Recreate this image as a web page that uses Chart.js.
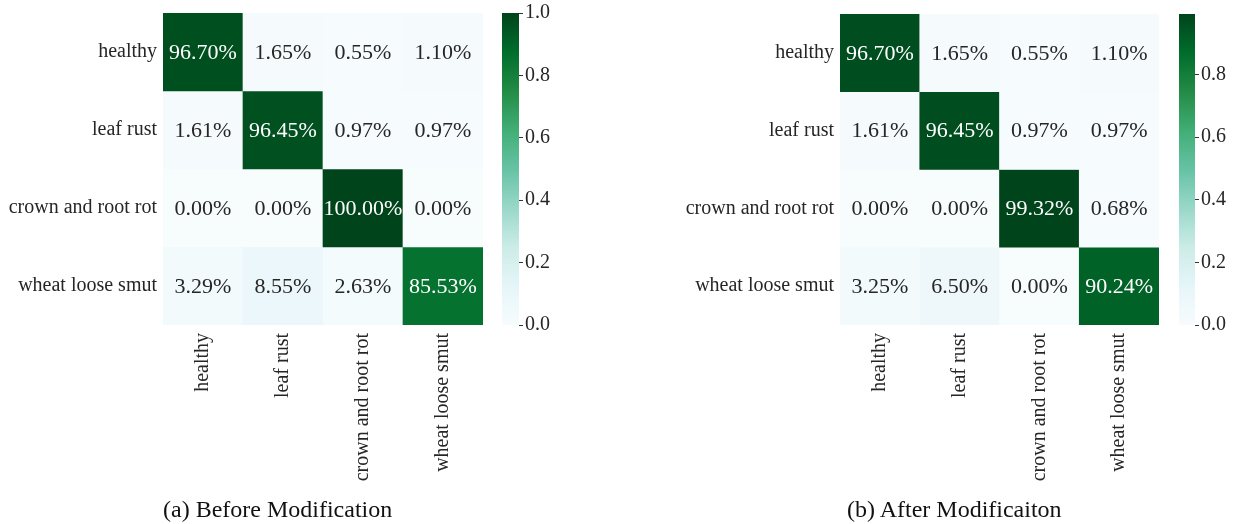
<!DOCTYPE html>
<html>
<head>
<meta charset="utf-8">
<script src="https://cdn.jsdelivr.net/npm/chart.js@4.4.1/dist/chart.umd.min.js"></script>
<style>
  body{margin:0;background:#fff;}
  #wrap{position:relative;width:1234px;height:524px;overflow:hidden;background:#fff;font-family:'Liberation Serif',serif;}
  canvas{position:absolute;top:0;}
  .cap{position:absolute;top:497px;font-size:24px;line-height:24px;color:#111;white-space:nowrap;}
</style>
</head>
<body>
<div id="wrap">
  <canvas id="hmA" width="490" height="500" style="left:0"></canvas>
  <canvas id="cbA" width="65" height="340" style="left:495px"></canvas>
  <canvas id="hmB" width="487" height="500" style="left:677px"></canvas>
  <canvas id="cbB" width="62" height="340" style="left:1172px"></canvas>
  <div class="cap" style="left:163px">(a) Before Modification</div>
  <div class="cap" style="left:847px">(b) After Modificaiton</div>
</div>
<script>
// confusion matrices (row-normalised, %)
const classes = ['healthy','leaf rust','crown and root rot','wheat loose smut'];
const beforeValues = [
  [96.70, 1.65, 0.55, 1.10],
  [1.61, 96.45, 0.97, 0.97],
  [0.00, 0.00, 100.00, 0.00],
  [3.29, 8.55, 2.63, 85.53]
];
const afterValues = [
  [96.70, 1.65, 0.55, 1.10],
  [1.61, 96.45, 0.97, 0.97],
  [0.00, 0.00, 99.32, 0.68],
  [3.25, 6.50, 0.00, 90.24]
];
const beforeBarTicks = [0, 0.2, 0.4, 0.6, 0.8, 1.0];
const afterBarTicks = [0, 0.2, 0.4, 0.6, 0.8];

// BuGn colormap
const bugn = ['#f7fcfd','#e5f5f9','#ccece6','#99d8c9','#66c2a4','#41ae76','#238b45','#006d2c','#00441b'];
const hex = h => [1,3,5].map(i => parseInt(h.substr(i,2),16));
function cmap(t){
  t = Math.max(0, Math.min(1, t));
  const p = t*(bugn.length-1), i = Math.min(Math.floor(p), bugn.length-2), f = p - i;
  const a = hex(bugn[i]), b = hex(bugn[i+1]);
  return a.map((v,k)=> Math.round(v + (b[k]-v)*f));
}
const rgb = c => `rgb(${c[0]},${c[1]},${c[2]})`;
function lum(c){
  const l = c.map(v=>{ v/=255; return v <= 0.03928 ? v/12.92 : Math.pow((v+0.055)/1.055, 2.4); });
  return 0.2126*l[0] + 0.7152*l[1] + 0.0722*l[2];
}

Chart.defaults.font.family = "'Liberation Serif', serif";
Chart.defaults.color = '#262626';

const annotate = {
  id: 'annotate',
  afterDatasetsDraw(chart){
    const vals = chart.options.plugins.annotate.values, vmax = chart.options.plugins.annotate.vmax;
    const ctx = chart.ctx;
    ctx.save();
    ctx.font = "22px 'Liberation Serif', serif";
    ctx.textAlign = 'center';
    ctx.textBaseline = 'middle';
    chart.data.datasets.forEach((ds, r)=>{
      chart.getDatasetMeta(r).data.forEach((bar, c)=>{
        const v = vals[r][c];
        const p = bar.getCenterPoint();
        ctx.fillStyle = lum(cmap(v/100/vmax)) > 0.408 ? '#262626' : '#ffffff';
        ctx.fillText(v.toFixed(2) + '%', p.x, p.y + 1);
      });
    });
    ctx.restore();
  }
};

function heatmap(id, values, padTop, padRight){
  const vmax = Math.max(...values.flat())/100;
  new Chart(document.getElementById(id), {
    type: 'bar',
    data: {
      labels: classes,
      datasets: values.map((row, r)=>({
        data: row.map(()=>[r, r+1]),
        backgroundColor: row.map(v=>rgb(cmap(v/100/vmax))),
        borderWidth: 0,
        barPercentage: 1,
        categoryPercentage: 1
      }))
    },
    options: {
      responsive: false,
      animation: false,
      layout: {padding: {top: padTop, right: padRight, left: 0, bottom: 0}},
      plugins: {legend: {display: false}, tooltip: {enabled: false}, annotate: {values, vmax}},
      scales: {
        x: {
          stacked: true,
          grid: {display: false, drawTicks: false}, border: {display: false},
          ticks: {minRotation: 90, maxRotation: 90, padding: 8, font: {size: 20}},
          afterFit: s => { s.height = 500 - 325; s.paddingLeft = 0; s.paddingRight = 0; }
        },
        y: {
          stacked: false, min: 0, max: 4, reverse: true,
          grid: {display: false, drawTicks: false}, border: {display: false},
          afterBuildTicks: s => { s.ticks = classes.map((_, i)=>({value: i + 0.5})); },
          ticks: {padding: 6, font: {size: 20}, callback: (v, i) => classes[i]},
          afterFit: s => { s.width = 163; s.paddingTop = 0; s.paddingBottom = 0; }
        }
      }
    },
    plugins: [annotate]
  });
}

function colorbar(id, vmax, tickVals, padTop, axisW){
  new Chart(document.getElementById(id), {
    type: 'bar',
    data: {
      labels: [''],
      datasets: [{
        data: [[0, vmax]],
        backgroundColor: (c)=>{
          const ys = c.chart.scales.y;
          const y0 = ys ? ys.getPixelForValue(0) : NaN, y1 = ys ? ys.getPixelForValue(vmax) : NaN;
          if(!isFinite(y0) || !isFinite(y1)) return rgb(cmap(0.5));
          const g = c.chart.ctx.createLinearGradient(0, y0, 0, y1);
          for(let i = 0; i <= 32; i++) g.addColorStop(i/32, rgb(cmap(i/32)));
          return g;
        },
        borderWidth: 0, barPercentage: 1, categoryPercentage: 1
      }]
    },
    options: {
      responsive: false,
      animation: false,
      layout: {padding: {top: padTop, bottom: 15, left: 7, right: 0}},
      plugins: {legend: {display: false}, tooltip: {enabled: false}},
      scales: {
        x: {display: false},
        y: {
          position: 'right', min: 0, max: vmax,
          grid: {drawOnChartArea: false, tickLength: 4, color: '#333'},
          border: {display: false},
          afterBuildTicks: s => { s.ticks = tickVals.map(v=>({value: v})); },
          ticks: {padding: 2, font: {size: 20}, callback: v => v.toFixed(1)},
          afterFit: s => { s.width = axisW; s.paddingTop = 0; s.paddingBottom = 0; }
        }
      }
    }
  });
}

heatmap('hmA', beforeValues, 13, 7);
colorbar('cbA', Math.max(...beforeValues.flat())/100, beforeBarTicks, 13, 41);
heatmap('hmB', afterValues, 14, 5);
colorbar('cbB', Math.max(...afterValues.flat())/100, afterBarTicks, 14, 39);
</script>
</body>
</html>
